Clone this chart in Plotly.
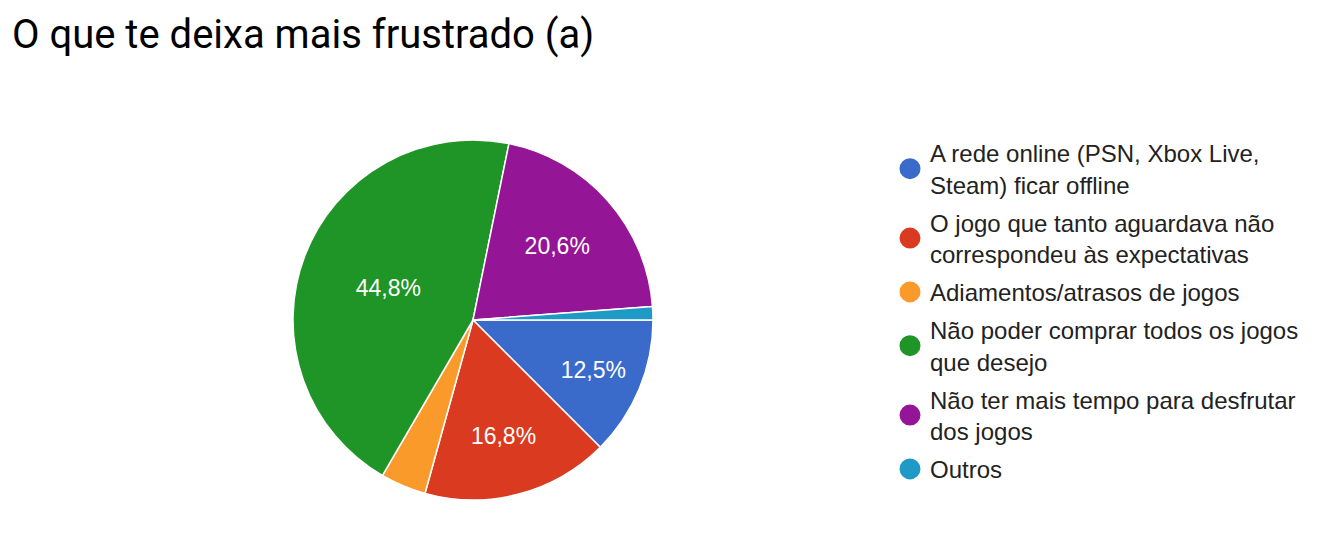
import plotly.graph_objects as go

categories = [
    "A rede online (PSN, Xbox Live,<br>Steam) ficar offline",
    "O jogo que tanto aguardava não<br>correspondeu às expectativas",
    "Adiamentos/atrasos de jogos",
    "Não poder comprar todos os jogos<br>que desejo",
    "Não ter mais tempo para desfrutar<br>dos jogos",
    "Outros",
]
values = [12.5, 16.8, 4.1, 44.8, 20.6, 1.2]
colors = ["#3a6bcb", "#da3b20", "#fa9a2b", "#1f9527", "#951597", "#1f9ac6"]
labels_shown = ["12,5%", "16,8%", "", "44,8%", "20,6%", ""]

W, H = 1317, 535
cx, cy, r = 473, 320, 180

fig = go.Figure()
fig.add_trace(go.Pie(
    labels=categories,
    values=values,
    sort=False,
    direction="clockwise",
    rotation=90,
    marker=dict(colors=colors, line=dict(color="white", width=1.5)),
    text=labels_shown,
    textinfo="text",
    textposition="inside",
    insidetextorientation="horizontal",
    insidetextfont=dict(family="Liberation Sans, Arial", size=23, color="white"),
    showlegend=False,
    hoverinfo="label+percent",
    domain=dict(x=[(cx - r) / W, (cx + r) / W], y=[(H - cy - r) / H, (H - cy + r) / H]),
))

for i, (cat, col) in enumerate(zip(categories, colors)):
    fig.add_trace(go.Scatter(
        x=[None], y=[None], mode="markers", name=cat,
        legendgroup=f"g{i}",
        marker=dict(symbol="circle", size=16, color=col, line=dict(color=col, width=5)),
        hoverinfo="skip",
    ))

fig.update_layout(
    width=W, height=H,
    margin=dict(l=0, r=0, t=0, b=0),
    paper_bgcolor="white", plot_bgcolor="white",
    xaxis=dict(visible=False), yaxis=dict(visible=False),
    title=dict(
        text="O que te deixa mais frustrado (a)",
        x=12 / W, xanchor="left", xref="paper",
        y=1 - 34 / H, yanchor="middle", yref="container",
        font=dict(family="Roboto", size=40, color="#000000"),
    ),
    legend=dict(
        x=890 / W, xanchor="left", y=1 - 131 / H, yanchor="top",
        font=dict(family="Liberation Sans, Arial", size=24, color="#222222"),
        bgcolor="rgba(0,0,0,0)", itemclick=False, itemdoubleclick=False,
        tracegroupgap=4,
    ),
)

fig.write_html("out.html")
